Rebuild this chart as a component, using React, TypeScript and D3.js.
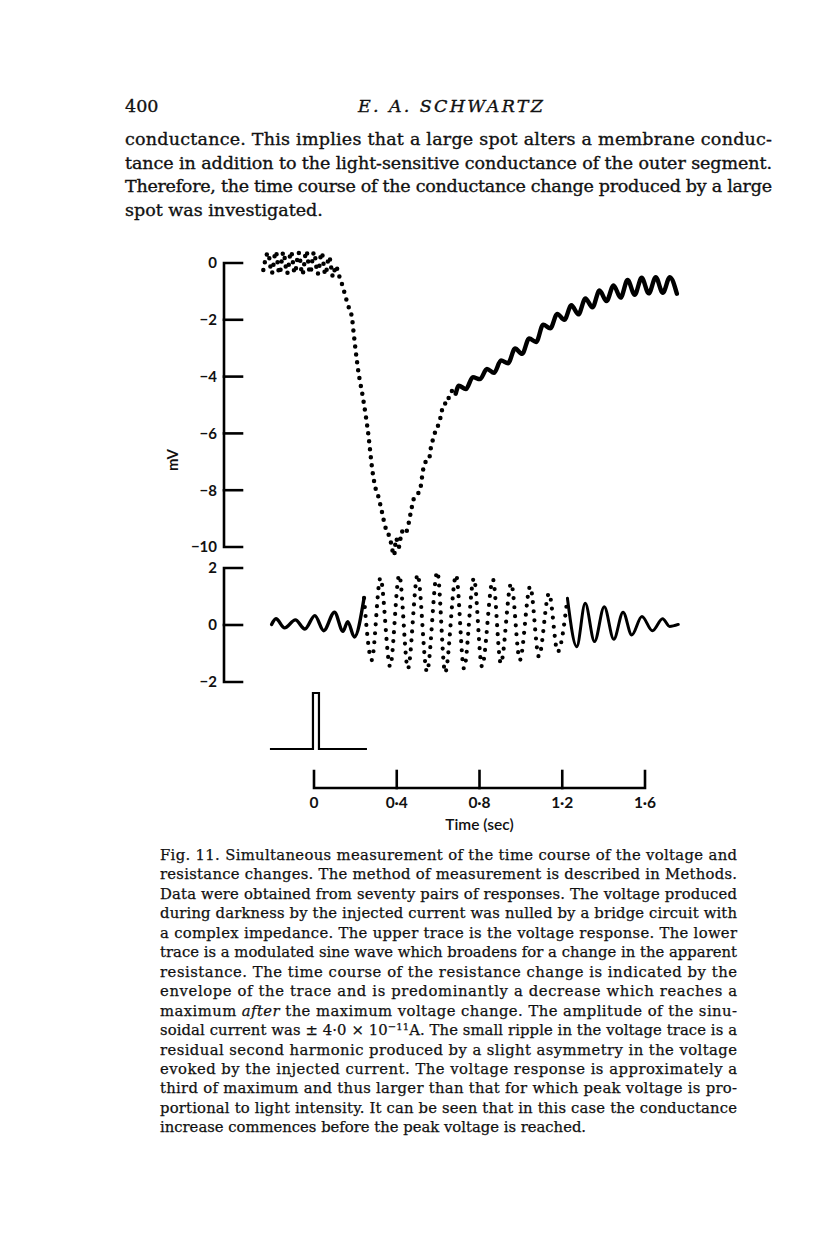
import React from 'react';
import * as d3 from 'd3';

// ---------- axis ticks ----------
const TIME_TICKS = [0, 0.4, 0.8, 1.2, 1.6];
const TIME_TICK_LABELS = ['0', '0·4', '0·8', '1·2', '1·6'];
const MV_TICKS = [0, -2, -4, -6, -8, -10];
const MV_TICK_LABELS = ['0', '−2', '−4', '−6', '−8', '−10'];
const R_TICKS = [2, 0, -2];
const R_TICK_LABELS = ['2', '0', '−2'];

// ---------- upper trace: voltage (mV) vs time (s) ----------
const VOLT_T = [
  -0.245, -0.222, -0.204, -0.185, -0.167, -0.148, -0.130, -0.111, -0.093, -0.074,
  -0.056, -0.037, -0.019, 0.000, 0.018, 0.037, 0.055, 0.073, 0.092, 0.105,
  0.120, 0.140, 0.155, 0.166, 0.176, 0.184, 0.190, 0.200, 0.213, 0.238,
  0.262, 0.283, 0.298, 0.310, 0.328, 0.345, 0.360, 0.372, 0.387, 0.397,
  0.410, 0.425, 0.440, 0.455, 0.470, 0.485, 0.500, 0.515, 0.527, 0.540,
  0.555, 0.565, 0.580, 0.592, 0.605, 0.618, 0.630, 0.645, 0.655, 0.670,
  0.685, 0.700, 0.734, 0.768, 0.802, 0.836, 0.870, 0.904, 0.938, 0.972,
  1.006, 1.040, 1.074, 1.108, 1.142, 1.176, 1.210, 1.244, 1.278, 1.312,
  1.346, 1.380, 1.414, 1.448, 1.482, 1.516, 1.550, 1.584, 1.618, 1.652,
  1.686, 1.720, 1.754,
];
const VOLT_V = [
  -0.25, 0.36, -0.36, 0.40, -0.38, 0.38, -0.36, 0.40, -0.35, 0.36,
  -0.40, 0.42, -0.36, 0.38, -0.38, 0.36, -0.40, 0.22, -0.48, -0.10,
  -0.42, -0.85, -1.25, -1.52, -1.70, -1.95, -2.35, -3.00, -3.75, -4.80,
  -6.00, -7.35, -7.95, -8.20, -8.75, -9.30, -9.55, -9.85, -10.30, -9.70,
  -10.00, -9.45, -9.55, -9.25, -8.70, -8.25, -8.15, -7.90, -7.30, -7.00,
  -6.95, -6.50, -6.10, -5.80, -5.65, -5.20, -4.95, -4.95, -4.60, -4.50,
  -4.60, -4.32, -4.44, -4.02, -4.09, -3.73, -3.87, -3.43, -3.53, -3.01,
  -3.20, -2.66, -2.78, -2.17, -2.30, -1.79, -2.00, -1.49, -1.81, -1.25,
  -1.56, -0.97, -1.34, -0.79, -1.22, -0.60, -1.12, -0.52, -1.07, -0.50,
  -1.05, -0.50, -1.08,
];
const VOLT_DOTTED_UNTIL = 0.685; // sparse sampling drawn as dots before this time

// ---------- lower trace: modulated sine (resistance) ----------
const RES_T = [
  -0.205, -0.184, -0.142, -0.090, -0.044, 0.004, 0.047, 0.099, 0.140, 0.163,
  0.195, 0.242, 0.279, 0.321, 0.368, 0.412, 0.454, 0.501, 0.546, 0.596,
  0.634, 0.687, 0.725, 0.773, 0.812, 0.865, 0.903, 0.953, 0.995, 1.045,
  1.087, 1.136, 1.178, 1.225, 1.270, 1.311, 1.356, 1.403, 1.449, 1.494,
  1.536, 1.585, 1.636, 1.685, 1.719, 1.761,
];
const RES_V = [
  0.02, 0.22, -0.10, 0.18, -0.14, 0.33, -0.20, 0.45, -0.22, 0.12,
  -0.42, 0.95, -1.23, 1.65, -1.46, 1.75, -1.53, 1.77, -1.64, 1.87,
  -1.67, 1.75, -1.53, 1.64, -1.46, 1.60, -1.35, 1.46, -1.23, 1.35,
  -1.11, 1.11, -0.94, 0.94, -0.76, 0.76, -0.58, 0.64, -0.50, 0.45,
  -0.35, 0.30, -0.20, 0.22, -0.05, 0.02,
];
const RES_DOTTED_FROM = 0.242;
const RES_DOTTED_UNTIL = 1.225;

// ---------- stimulus (light flash) ----------
const STIM_T = [-0.213, -0.005, -0.005, 0.024, 0.024, 0.256];
const STIM_LEVEL = [0, 0, 1, 1, 0, 0];

// ---------- text ----------
const PAGE_NUMBER = '400';
const RUNNING_HEAD = 'E. A. SCHWARTZ';
const BODY_LINES = [
  'conductance. This implies that a large spot alters a membrane conduc-',
  'tance in addition to the light-sensitive conductance of the outer segment.',
  'Therefore, the time course of the conductance change produced by a large',
  'spot was investigated.',
];
const CAPTION_LINES = [
  'Fig. 11. Simultaneous measurement of the time course of the voltage and',
  'resistance changes. The method of measurement is described in Methods.',
  'Data were obtained from seventy pairs of responses. The voltage produced',
  'during darkness by the injected current was nulled by a bridge circuit with',
  'a complex impedance. The upper trace is the voltage response. The lower',
  'trace is a modulated sine wave which broadens for a change in the apparent',
  'resistance. The time course of the resistance change is indicated by the',
  'envelope of the trace and is predominantly a decrease which reaches a',
  'maximum *after* the maximum voltage change. The amplitude of the sinu-',
  'soidal current was  ± 4·0 × 10^−11^A. The small ripple in the voltage trace is a',
  'residual second harmonic produced by a slight asymmetry in the voltage',
  'evoked by the injected current. The voltage response is approximately a',
  'third of maximum and thus larger than that for which peak voltage is pro-',
  'portional to light intensity. It can be seen that in this case the conductance',
  'increase commences before the peak voltage is reached.',
];
const X_LABEL = 'Time (sec)';
const Y_LABEL = 'mV';

const SERIF = '"DejaVu Serif", "Liberation Serif", serif';
const SANS = 'Lato, "Open Sans", "DejaVu Sans", sans-serif';

function renderRich(line: string) {
  // *italic*  and ^superscript^
  const parts: React.ReactNode[] = [];
  const re = /(\*[^*]+\*|\^[^^]+\^)/g;
  let last = 0;
  let m: RegExpExecArray | null;
  let k = 0;
  let pendingDown = false;
  while ((m = re.exec(line))) {
    if (m.index > last) {
      parts.push(
        <tspan key={k++} dy={pendingDown ? 5 : undefined}>{line.slice(last, m.index)}</tspan>
      );
      pendingDown = false;
    }
    const tok = m[0];
    if (tok[0] === '*') {
      parts.push(<tspan key={k++} fontStyle="italic" dy={pendingDown ? 5 : undefined}>{tok.slice(1, -1)}</tspan>);
      pendingDown = false;
    } else {
      parts.push(<tspan key={k++} fontSize={10} dy={-5}>{tok.slice(1, -1)}</tspan>);
      pendingDown = true;
    }
    last = m.index + tok.length;
  }
  if (last < line.length) {
    parts.push(<tspan key={k++} dy={pendingDown ? 5 : undefined}>{line.slice(last)}</tspan>);
  }
  return parts;
}

export default function App() {
  const W = 816;
  const H = 1234;

  const x = d3.scaleLinear().domain([0, 1.6]).range([314, 645]);
  const yV = d3.scaleLinear().domain([0, -10]).range([263, 547]);
  const yR = d3.scaleLinear().domain([2, -2]).range([568, 682]);
  const yS = d3.scaleLinear().domain([0, 1]).range([749, 693]);

  const axisX = 224;
  const tickLen = 18;

  const volt = VOLT_T.map((t, i) => ({ t, v: VOLT_V[i] }));
  const res = RES_T.map((t, i) => ({ t, v: RES_V[i] }));
  const stim = STIM_T.map((t, i) => ({ t, v: STIM_LEVEL[i] }));

  const lineV = d3
    .line<{ t: number; v: number }>()
    .x((d) => x(d.t))
    .y((d) => yV(d.v))
    .curve(d3.curveMonotoneX);
  const lineR = d3
    .line<{ t: number; v: number }>()
    .x((d) => x(d.t))
    .y((d) => yR(d.v))
    .curve(d3.curveMonotoneX);
  const lineS = d3
    .line<{ t: number; v: number }>()
    .x((d) => x(d.t))
    .y((d) => yS(d.v));

  const voltDotted = volt.filter((d) => d.t <= VOLT_DOTTED_UNTIL);
  const voltSolid = volt.filter((d) => d.t >= VOLT_DOTTED_UNTIL);
  const resSolidA = res.filter((d) => d.t <= RES_DOTTED_FROM);
  const resDotted = res.filter((d) => d.t >= RES_DOTTED_FROM && d.t <= RES_DOTTED_UNTIL);
  const resSolidB = res.filter((d) => d.t >= RES_DOTTED_UNTIL);

  const bodyX = 125;
  const bodyW = 647;
  const capX = 160;
  const capW = 577;
  const ink = '#111';

  return (
    <svg
      width={W}
      height={H}
      viewBox={`0 0 ${W} ${H}`}
      style={{ position: 'absolute', left: 0, top: 0, background: '#fff' }}
    >
      <rect x={0} y={0} width={W} height={H} fill="#fff" />

      {/* running head */}
      <g fontFamily={SERIF} fill={ink} stroke={ink} strokeWidth={0.35}>
        <text x={bodyX} y={112} fontSize={17.5}>
          {PAGE_NUMBER}
        </text>
        <text
          x={358}
          y={112}
          fontSize={17.5}
          fontStyle="italic"
          textLength={185}
          lengthAdjust="spacing"
        >
          {RUNNING_HEAD}
        </text>
      </g>

      {/* body text */}
      <g fontFamily={SERIF} fill={ink} stroke={ink} strokeWidth={0.35}>
        {BODY_LINES.map((l, i) => (
          <text
            key={i}
            x={bodyX}
            y={145 + i * 23.5}
            fontSize={17.5}
            textLength={i < BODY_LINES.length - 1 ? bodyW : undefined}
            lengthAdjust="spacing"
          >
            {l}
          </text>
        ))}
      </g>

      {/* axes (mV and modulation) */}
      <g stroke="#000" strokeWidth={2.6} fill="none" strokeLinecap="square">
        <path d={`M${axisX + tickLen},${yV(0)}H${axisX}V${yV(-10)}H${axisX + tickLen}`} />
        {MV_TICKS.slice(1, -1).map((v) => (
          <line key={v} x1={axisX} x2={axisX + tickLen} y1={yV(v)} y2={yV(v)} />
        ))}
        <path d={`M${axisX + tickLen},${yR(2)}H${axisX}V${yR(-2)}H${axisX + tickLen}`} />
        {R_TICKS.slice(1, -1).map((v) => (
          <line key={v} x1={axisX} x2={axisX + tickLen} y1={yR(v)} y2={yR(v)} />
        ))}
      </g>
      <g fontFamily={SANS} fontWeight={700} fontSize={15} fill={ink} textAnchor="end">
        {MV_TICKS.map((v, i) => (
          <text key={v} x={217} y={yV(v)} dy="0.36em">
            {MV_TICK_LABELS[i]}
          </text>
        ))}
        {R_TICKS.map((v, i) => (
          <text key={v} x={217} y={yR(v)} dy="0.36em">
            {R_TICK_LABELS[i]}
          </text>
        ))}
      </g>
      <text
        transform={`translate(178,460) rotate(-90)`}
        fontFamily={SANS}
        fontWeight={700}
        fontSize={15}
        textAnchor="middle"
        fill={ink}
      >
        {Y_LABEL}
      </text>

      {/* voltage trace */}
      <path
        d={lineV(voltDotted) || ''}
        fill="none"
        stroke="#000"
        strokeWidth={4.5}
        strokeLinecap="round"
        strokeDasharray="0 8"
      />
      <path
        d={lineV(voltSolid) || ''}
        fill="none"
        stroke="#000"
        strokeWidth={4.4}
        strokeLinejoin="round"
        strokeLinecap="round"
      />

      {/* resistance trace */}
      <path d={lineR(resSolidA) || ''} fill="none" stroke="#000" strokeWidth={3.4} strokeLinejoin="round" strokeLinecap="round" />
      <path
        d={lineR(resDotted) || ''}
        fill="none"
        stroke="#000"
        strokeWidth={4.2}
        strokeLinecap="round"
        strokeDasharray="0 9"
      />
      <path d={lineR(resSolidB) || ''} fill="none" stroke="#000" strokeWidth={3} strokeLinejoin="round" strokeLinecap="round" />

      {/* stimulus */}
      <path d={lineS(stim) || ''} fill="none" stroke="#000" strokeWidth={2.2} />

      {/* time axis */}
      <g stroke="#000" strokeWidth={2.6} fill="none" strokeLinecap="square">
        <path d={`M${x(0)},771V788H${x(1.6)}V771`} />
        {TIME_TICKS.slice(1, -1).map((t) => (
          <line key={t} x1={x(t)} x2={x(t)} y1={788} y2={771} />
        ))}
      </g>
      <g fontFamily={SANS} fontWeight={700} fontSize={15.5} fill={ink} textAnchor="middle">
        {TIME_TICKS.map((t, i) => (
          <text key={t} x={x(t)} y={808}>
            {TIME_TICK_LABELS[i]}
          </text>
        ))}
      </g>
      <text x={(x(0) + x(1.6)) / 2} y={830} fontFamily={SANS} fontWeight={600} fontSize={15.5} textAnchor="middle" fill={ink}>
        {X_LABEL}
      </text>

      {/* caption */}
      <g fontFamily={SERIF} fill={ink} stroke={ink} strokeWidth={0.25}>
        {CAPTION_LINES.map((l, i) => (
          <text
            key={i}
            x={capX}
            y={860 + i * 19.45}
            fontSize={14.8}
            textLength={i < CAPTION_LINES.length - 1 ? capW : undefined}
            lengthAdjust="spacing"
          >
            {renderRich(l)}
          </text>
        ))}
      </g>
    </svg>
  );
}
